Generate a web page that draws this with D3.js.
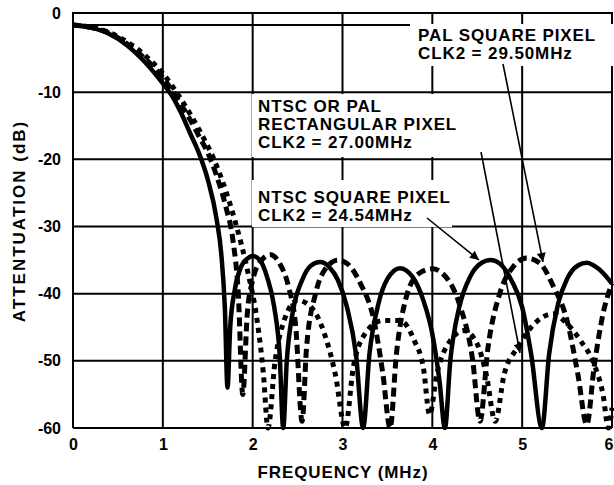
<!DOCTYPE html>
<html>
<head>
<meta charset="utf-8">
<script src="https://cdn.jsdelivr.net/npm/d3@7"></script>
<style>
  body { margin: 0; background: #fff; }
  text { font-family: "Liberation Sans", Arial, sans-serif; font-weight: bold; fill: #000; }
</style>
</head>
<body>
<div id="chart"></div>
<script>
// frequency response: [MHz, dB]
var ntscSquare = [[0,0],[0.2,-0.4],[0.4,-1.3],[0.6,-3],[0.8,-5.5],[1.0,-8.7],[1.1,-10.5],[1.2,-13],
    [1.3,-16],[1.4,-19],[1.5,-23],[1.6,-29],[1.65,-34],[1.69,-42],[1.72,-54],[1.75,-45],[1.8,-39.5],
    [1.87,-36],[1.94,-34.8],[2.0,-34.4],[2.08,-35],[2.16,-37.5],[2.24,-42],[2.3,-49],[2.34,-60],
    [2.38,-50],[2.45,-42.5],[2.55,-38],[2.65,-35.8],[2.75,-35.3],[2.85,-36],[2.95,-38],[3.05,-42],
    [3.15,-49],[3.23,-60],[3.3,-49],[3.4,-41.5],[3.5,-37.8],[3.64,-36.2],[3.78,-37.5],[3.9,-41],
    [4.0,-46],[4.08,-53],[4.14,-60],[4.2,-50],[4.3,-42],[4.42,-37.5],[4.55,-35.4],[4.65,-35],
    [4.75,-35.5],[4.88,-38],[5.0,-42],[5.1,-49],[5.22,-60],[5.3,-49],[5.4,-41.5],[5.5,-37.8],
    [5.62,-35.8],[5.72,-35.4],[5.85,-36.3],[6.0,-38.5]];

var rectPixel = [[0,0],[0.4,-1.2],[0.8,-5],[1.0,-7.8],[1.1,-9.7],[1.2,-11.8],[1.3,-14],[1.4,-16.5],
    [1.5,-19],[1.6,-22.5],[1.7,-27],[1.78,-32],[1.84,-40],[1.89,-55],[1.94,-43],[2.0,-38],[2.1,-35],
    [2.2,-34.2],[2.3,-35.5],[2.4,-39],[2.48,-45],[2.55,-59],[2.6,-48],[2.7,-40],[2.8,-36.5],[2.95,-35],
    [3.05,-35.5],[3.2,-38.5],[3.35,-44],[3.45,-52],[3.53,-60],[3.6,-49],[3.7,-41],[3.85,-37],[4.0,-36.3],
    [4.15,-37.5],[4.3,-41.5],[4.45,-50],[4.53,-59],[4.62,-48],[4.75,-40],[4.9,-36],[5.05,-34.7],
    [5.2,-35.5],[5.35,-39],[5.5,-44],[5.62,-52],[5.72,-59.5],[5.8,-51],[5.9,-43],[6.0,-38.5]];

var palSquare = [[0,0],[0.4,-1.1],[0.8,-4.5],[1.0,-7.2],[1.2,-11],[1.4,-15.5],[1.6,-21],[1.8,-29],
    [1.95,-37],[2.05,-44],[2.12,-52],[2.17,-60],[2.25,-50],[2.35,-44],[2.5,-41],[2.65,-42],[2.8,-46],
    [2.92,-52],[3.03,-60],[3.12,-51],[3.25,-46],[3.45,-44],[3.64,-44],[3.8,-47],[3.9,-51],[3.97,-58],
    [4.05,-52],[4.2,-47],[4.35,-45.5],[4.5,-47.5],[4.6,-52],[4.7,-59],[4.8,-52],[4.95,-48],[5.1,-45],
    [5.35,-43],[5.5,-44.5],[5.65,-47],[5.8,-50.5],[5.9,-55],[5.96,-60],[6.0,-57]];

var xTicks = [0, 1, 2, 3, 4, 5, 6];
var yTicks = [0, -10, -20, -30, -40, -50, -60];

var labelPal = ["PAL SQUARE PIXEL", "CLK2 = 29.50MHz"];
var labelRect = ["NTSC OR PAL", "RECTANGULAR PIXEL", "CLK2 = 27.00MHz"];
var labelNtsc = ["NTSC SQUARE PIXEL", "CLK2 = 24.54MHz"];

var W = 614, H = 485;
var left = 73, right = 612, top0 = 25, bottom = 428, frameTop = 13;
var FONT = '"Liberation Sans", Arial, sans-serif';

var svg = d3.select('#chart').append('svg')
    .attr('width', W).attr('height', H);

var x = d3.scaleLinear().domain([0, 6]).range([left, right]);
var y = d3.scaleLinear().domain([-60, 0]).range([bottom, top0]);

// grid
var grid = svg.append('g');
grid.selectAll('.vg').data(xTicks).enter().append('line')
    .attr('x1', function (d) { return x(d) }).attr('x2', function (d) { return x(d) })
    .attr('y1', frameTop).attr('y2', bottom)
    .style('stroke', '#000').style('stroke-width', 2);
grid.selectAll('.hg').data(yTicks).enter().append('line')
    .attr('x1', left).attr('x2', right)
    .attr('y1', function (d) { return y(d) }).attr('y2', function (d) { return y(d) })
    .style('stroke', '#000').style('stroke-width', 2);
grid.append('line').attr('x1', left - 1).attr('x2', right + 1)
    .attr('y1', frameTop).attr('y2', frameTop)
    .style('stroke', '#000').style('stroke-width', 2);

// white boxes behind the labels knock out the grid
var boxes = [[410, 24, 204, 42], [252, 94, 216, 63], [252, 180, 200, 47]];
svg.selectAll('.box').data(boxes).enter().append('rect')
    .attr('x', function (d) { return d[0] }).attr('y', function (d) { return d[1] })
    .attr('width', function (d) { return d[2] }).attr('height', function (d) { return d[3] })
    .style('fill', '#fff');

// curves
var line = d3.line()
    .x(function (d) { return x(d[0]) })
    .y(function (d) { return y(d[1]) })
    .curve(d3.curveMonotoneX);

var plot = svg.append('g');
plot.append('path').datum(palSquare).attr('d', line)
    .style('fill', 'none').style('stroke', '#000').style('stroke-width', 5)
    .style('stroke-dasharray', '5,5');
plot.append('path').datum(rectPixel).attr('d', line)
    .style('fill', 'none').style('stroke', '#000').style('stroke-width', 5)
    .style('stroke-dasharray', '9,5');
plot.append('path').datum(ntscSquare).attr('d', line)
    .style('fill', 'none').style('stroke', '#000').style('stroke-width', 4.5);

// axes (text only, the grid draws the lines)
var fmt = function (d) { return String(d) };   // plain hyphen, like the datasheet
var xAxis = svg.append('g').attr('transform', 'translate(0,' + bottom + ')')
    .call(d3.axisBottom(x).tickValues(xTicks).tickSize(0).tickPadding(11).tickFormat(fmt));
var yAxis = svg.append('g').attr('transform', 'translate(' + left + ',0)')
    .call(d3.axisLeft(y).tickValues(yTicks).tickSize(0).tickPadding(12).tickFormat(fmt));
[xAxis, yAxis].forEach(function (a) {
    a.select('.domain').remove();
    a.selectAll('text').style('font-size', '16px').style('font-family', FONT)
        .style('font-weight', 'bold');
});
// "6" sits against the right edge
xAxis.selectAll('.tick').filter(function (d) { return d === 6 })
    .select('text').attr('text-anchor', 'end').attr('x', 1);
// the "0" label sits up at the frame top
yAxis.selectAll('.tick').filter(function (d) { return d === 0 })
    .select('text').attr('y', frameTop - top0);

svg.append('text').attr('x', 343).attr('y', 478).attr('text-anchor', 'middle')
    .style('font-size', '17px').style('letter-spacing', '0.9px').text('FREQUENCY (MHz)');
svg.append('text').attr('transform', 'translate(25,221) rotate(-90)').attr('text-anchor', 'middle')
    .style('font-size', '17px').style('letter-spacing', '2px').text('ATTENTUATION (dB)');

// curve labels
function block(lines, x0, y0) {
    svg.selectAll(null).data(lines).enter().append('text')
        .attr('x', x0).attr('y', function (d, i) { return y0 + i * 18 })
        .style('font-size', '17px').style('letter-spacing', '0.9px')
        .text(function (d) { return d });
}
block(labelPal, 418, 41);
block(labelRect, 258, 112);
block(labelNtsc, 258, 203);

// arrows
svg.append('defs').append('marker').attr('id', 'ah')
    .attr('viewBox', '0 0 10 10').attr('refX', 10).attr('refY', 5)
    .attr('markerWidth', 13).attr('markerHeight', 9).attr('markerUnits', 'userSpaceOnUse')
    .attr('orient', 'auto')
    .append('path').attr('d', 'M0,0L10,5L0,10z').style('fill', '#000');
var arrows = [[503, 64, 543, 262], [481, 152, 520, 353], [427, 218, 479, 260]];
svg.selectAll('.arr').data(arrows).enter().append('line')
    .attr('x1', function (d) { return d[0] }).attr('y1', function (d) { return d[1] })
    .attr('x2', function (d) { return d[2] }).attr('y2', function (d) { return d[3] })
    .style('stroke', '#000').style('stroke-width', 1.6).attr('marker-end', 'url(#ah)');
</script>
</body>
</html>
